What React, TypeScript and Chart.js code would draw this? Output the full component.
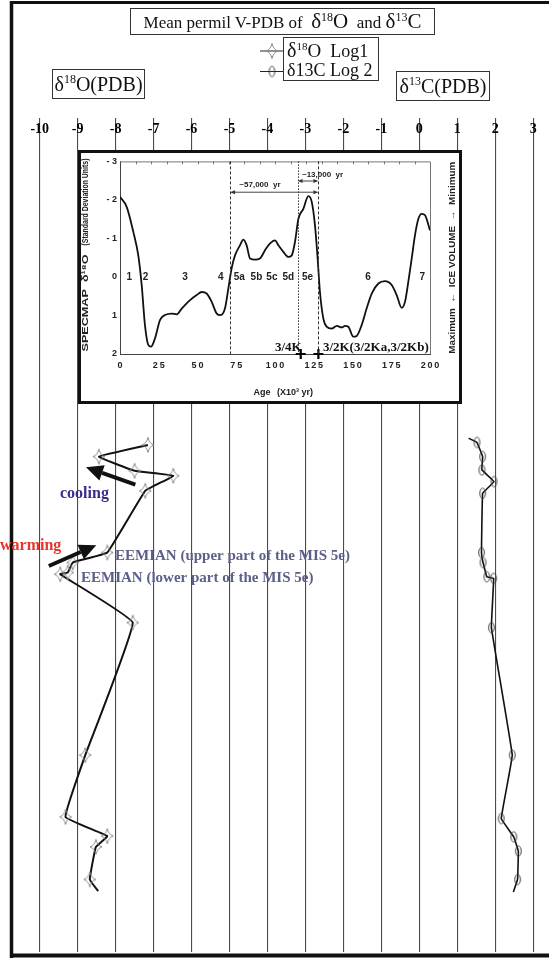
import React, { useEffect, useRef } from 'react';
import { Chart, registerables } from 'chart.js';

Chart.register(...registerables);

// ---------- main chart data ----------
const axisTicks = [-10, -9, -8, -7, -6, -5, -4, -3, -2, -1, 0, 1, 2, 3];
// depth levels (arbitrary sample depth units, top = 0)
const o18Depth = [39.2, 40.6, 42.3, 42.9, 44.7, 52.1, 53.3, 54.5, 54.7, 60.5, 76.4, 83.8, 86.1, 87.4, 91.3, 92.7];
const o18Values = [-7.15, -8.44, -7.5, -6.48, -7.22, -8.22, -9.13, -9.26, -9.46, -7.55, -8.8, -9.32, -8.22, -8.52, -8.68, -8.46];
const c13Depth = [38.4, 38.9, 40.6, 42.2, 43.6, 45.0, 52.1, 53.3, 55.0, 55.2, 61.1, 76.4, 84.0, 86.2, 87.9, 91.3, 92.8];
const c13Values = [1.3, 1.52, 1.67, 1.65, 1.97, 1.67, 1.64, 1.68, 1.78, 1.96, 1.9, 2.45, 2.16, 2.49, 2.61, 2.59, 2.48];
const o18NoMarker = [15];
const c13NoMarker = [0, 16];

const coolingArrow = { from: [-7.48, 43.95], to: [-8.78, 41.88] };
const warmingArrow = { from: [-9.76, 53.72], to: [-8.51, 51.22] };

// ---------- inset (SPECMAP) data ----------
const specAge = [0, 4.3, 8.6, 11.8, 14, 16.1, 18.3, 20, 22.6, 25.8, 29, 33.3, 36.6, 39.8, 45.2, 49.5, 52.7, 55.9, 59.1, 62.4, 64.9, 67.7, 69.9, 72, 74.2, 77.4, 79.6, 81.7, 83.9, 87.1, 90.3, 93.5, 96.8, 100, 102.2, 105.4, 108.6, 110.8, 112.9, 115.1, 118.3, 121.5, 123.7, 125.8, 127.5, 129, 131.2, 133.3, 136.6, 139.8, 143, 145.2, 147.3, 150.5, 152.7, 155.9, 159.1, 162.4, 166.7, 170.9, 175.3, 178.5, 181.7, 183.9, 186, 188.2, 190.3, 192.5, 194.6, 196.8, 200];
const specValue = [-2.08, -1.82, -1.17, -0.56, 0.21, 1.25, 1.77, 1.81, 1.59, 1.12, 0.99, 0.95, 0.97, 0.82, 0.6, 0.47, 0.39, 0.43, 0.64, 0.95, 0.99, 0.82, 0.3, -0.22, -0.56, -0.82, -0.97, -0.82, -0.48, -0.45, -0.48, -0.69, -0.87, -0.95, -0.82, -0.65, -0.52, -0.56, -0.91, -1.51, -1.77, -2.1, -1.95, -1.34, -0.48, 0.39, 1.08, 1.29, 1.34, 1.27, 1.31, 1.27, 1.29, 1.55, 1.53, 1.25, 0.82, 0.43, 0.17, 0.11, 0.21, 0.47, 0.8, 0.64, 0.13, -0.48, -1.08, -1.51, -1.64, -1.6, -1.21];
const specXTicks = [0, 25, 50, 75, 100, 125, 150, 175, 200];
const specYTicks = [-3, -2, -1, 0, 1, 2];
const stageNames = ['1', '2', '3', '4', '5a', '5b', '5c', '5d', '5e', '6', '7'];
const stageAges = [6, 16.5, 42, 65, 77, 88, 98, 108.6, 121, 160, 195];
const boundaryAges = [71, 114.6, 128];
const kCrossAges = [116.6, 128];

const SERIF = '"Liberation Serif", "Times New Roman", serif';
const SANS = '"Liberation Sans", Arial, sans-serif';

function makeStar(): HTMLCanvasElement {
  const c = document.createElement('canvas');
  c.width = 16; c.height = 18;
  const g = c.getContext('2d')!;
  const cx = 8, cy = 9, rx = 6, ry = 7.5, k = 1.4;
  g.beginPath();
  g.moveTo(cx, cy - ry);
  g.quadraticCurveTo(cx + k, cy - k, cx + rx, cy);
  g.quadraticCurveTo(cx + k, cy + k, cx, cy + ry);
  g.quadraticCurveTo(cx - k, cy + k, cx - rx, cy);
  g.quadraticCurveTo(cx - k, cy - k, cx, cy - ry);
  g.closePath();
  g.strokeStyle = '#8a8a8a';
  g.lineWidth = 1;
  g.stroke();
  return c;
}

function makeEllipse(): HTMLCanvasElement {
  const c = document.createElement('canvas');
  c.width = 9; c.height = 14;
  const g = c.getContext('2d')!;
  g.beginPath();
  g.ellipse(4.5, 7, 2.8, 5.2, 0, 0, Math.PI * 2);
  g.strokeStyle = '#444';
  g.lineWidth = 1;
  g.stroke();
  return c;
}

function arrow(ctx: CanvasRenderingContext2D, x1: number, y1: number, x2: number, y2: number, lw: number, hl: number, hw: number) {
  const a = Math.atan2(y2 - y1, x2 - x1);
  const bx = x2 - hl * Math.cos(a), by = y2 - hl * Math.sin(a);
  ctx.lineWidth = lw;
  ctx.beginPath(); ctx.moveTo(x1, y1); ctx.lineTo(bx, by); ctx.stroke();
  ctx.beginPath();
  ctx.moveTo(x2, y2);
  ctx.lineTo(bx + (hw / 2) * Math.sin(a), by - (hw / 2) * Math.cos(a));
  ctx.lineTo(bx - (hw / 2) * Math.sin(a), by + (hw / 2) * Math.cos(a));
  ctx.closePath(); ctx.fill();
}

function fitText(ctx: CanvasRenderingContext2D, text: string, cx: number, cy: number, w: number, angle: number) {
  ctx.save();
  ctx.translate(cx, cy);
  ctx.rotate(angle);
  const m = ctx.measureText(text).width;
  ctx.scale(w / m, 1);
  ctx.textAlign = 'center';
  ctx.textBaseline = 'middle';
  ctx.fillText(text, 0, 0);
  ctx.restore();
}

const sup = (t: string, size: number, top: number) => (
  <span style={{ fontSize: size, position: 'relative', top }}>{t}</span>
);

export default function App() {
  const mainRef = useRef<HTMLCanvasElement>(null);
  const insetRef = useRef<HTMLCanvasElement>(null);

  useEffect(() => {
    const star = makeStar();
    const ell = makeEllipse();

    const mainDecor = {
      id: 'mainDecor',
      afterDraw(chart: any) {
        const ctx: CanvasRenderingContext2D = chart.ctx;
        const xs = chart.scales.x, ys = chart.scales.y;
        const ca = chart.chartArea;
        ctx.save();
        // frame
        ctx.strokeStyle = '#111';
        ctx.lineWidth = 3.5;
        ctx.beginPath(); ctx.moveTo(ca.left - 0.5, 1); ctx.lineTo(ca.left - 0.5, 958); ctx.stroke();
        ctx.lineWidth = 3;
        ctx.beginPath(); ctx.moveTo(ca.left - 2, 2.5); ctx.lineTo(549, 2.5); ctx.stroke();
        ctx.lineWidth = 4;
        ctx.beginPath(); ctx.moveTo(ca.left - 2, 955.5); ctx.lineTo(549, 955.5); ctx.stroke();
        // tick labels
        ctx.fillStyle = '#000';
        ctx.font = `bold 14px ${SERIF}`;
        ctx.textAlign = 'center';
        ctx.textBaseline = 'middle';
        axisTicks.forEach(v => ctx.fillText(String(v), xs.getPixelForValue(v), ca.top + 11));
        // legend markers
        ctx.strokeStyle = '#222';
        ctx.lineWidth = 1;
        ctx.beginPath(); ctx.moveTo(260, 51); ctx.lineTo(283, 51); ctx.stroke();
        ctx.beginPath(); ctx.moveTo(260, 71.5); ctx.lineTo(283, 71.5); ctx.stroke();
        ctx.drawImage(star, 272 - star.width / 2, 51 - star.height / 2);
        ctx.drawImage(ell, 272 - ell.width / 2, 71.5 - ell.height / 2);
        // arrows
        ctx.fillStyle = '#111';
        ctx.strokeStyle = '#111';
        [coolingArrow, warmingArrow].forEach(a => {
          arrow(ctx, xs.getPixelForValue(a.from[0]), ys.getPixelForValue(a.from[1]),
            xs.getPixelForValue(a.to[0]), ys.getPixelForValue(a.to[1]), 4, 17, 16);
        });
        // annotation texts
        ctx.textAlign = 'left';
        ctx.textBaseline = 'alphabetic';
        ctx.font = `bold 16px ${SERIF}`;
        ctx.fillStyle = '#3a2d8c';
        ctx.fillText('cooling', 60, 498);
        ctx.fillStyle = '#e8352b';
        ctx.fillText('warming', 0, 550);
        ctx.font = `bold 15px ${SERIF}`;
        ctx.fillStyle = '#5c5f88';
        ctx.fillText('EEMIAN (upper part of the MIS 5e)', 115, 560);
        ctx.fillText('EEMIAN (lower part of the MIS 5e)', 81, 582);
        ctx.restore();
      },
    };

    const main = new Chart(mainRef.current!, {
      type: 'scatter',
      data: {
        datasets: [
          {
            label: 'δ18O Log1',
            data: o18Depth.map((d, i) => ({ x: o18Values[i], y: d })),
            showLine: true,
            borderColor: '#111',
            borderWidth: 2,
            tension: 0.08,
            pointStyle: (c: any) => (o18NoMarker.includes(c.dataIndex) ? false : star),
          } as any,
          {
            label: 'δ13C Log 2',
            data: c13Depth.map((d, i) => ({ x: c13Values[i], y: d })),
            showLine: true,
            borderColor: '#111',
            borderWidth: 1.6,
            tension: 0.05,
            pointStyle: (c: any) => (c13NoMarker.includes(c.dataIndex) ? false : ell),
          } as any,
        ],
      },
      options: {
        responsive: false,
        animation: false,
        events: [],
        layout: { padding: { top: 118, left: 12, right: 0, bottom: 5 } },
        plugins: { legend: { display: false }, tooltip: { enabled: false } },
        scales: {
          x: {
            type: 'linear',
            position: 'top',
            min: -10.73,
            max: 3.26,
            afterBuildTicks: (s: any) => { s.ticks = axisTicks.map(v => ({ value: v })); },
            afterFit: (s: any) => { s.height = 0; },
            ticks: { display: false },
            grid: { color: '#4a4a4a', lineWidth: 1.1, drawTicks: false },
            border: { display: false },
          },
          y: { type: 'linear', display: false, reverse: true, min: 0, max: 100 },
        },
      },
      plugins: [mainDecor],
    } as any);

    const insetDecor = {
      id: 'insetDecor',
      afterDraw(chart: any) {
        const ctx: CanvasRenderingContext2D = chart.ctx;
        const xs = chart.scales.x, ys = chart.scales.y;
        const ca = chart.chartArea;
        ctx.save();
        // top & right plot border
        ctx.strokeStyle = '#777';
        ctx.lineWidth = 1;
        ctx.beginPath();
        ctx.moveTo(ca.left, ca.top + 0.5); ctx.lineTo(ca.right + 0.5, ca.top + 0.5); ctx.lineTo(ca.right + 0.5, ca.bottom);
        ctx.stroke();
        // small top ticks
        for (let a = 10; a < 200; a += 10) {
          const px = Math.round(xs.getPixelForValue(a)) + 0.5;
          ctx.beginPath(); ctx.moveTo(px, ca.top); ctx.lineTo(px, ca.top + 3); ctx.stroke();
        }
        // boundary lines
        boundaryAges.forEach((a, i) => {
          ctx.setLineDash(i === 1 ? [1.5, 1.5] : [3, 2]);
          ctx.strokeStyle = '#333';
          const px = Math.round(xs.getPixelForValue(a)) + 0.5;
          ctx.beginPath(); ctx.moveTo(px, ca.top); ctx.lineTo(px, ca.bottom); ctx.stroke();
        });
        ctx.setLineDash([]);
        // duration arrows
        ctx.strokeStyle = '#444'; ctx.fillStyle = '#333';
        const dbl = (a1: number, a2: number, v: number) => {
          const y = ys.getPixelForValue(v);
          const x1 = xs.getPixelForValue(a1), x2 = xs.getPixelForValue(a2);
          const mid = (x1 + x2) / 2;
          arrow(ctx, mid, y, x1, y, 1, 5, 4);
          arrow(ctx, mid, y, x2, y, 1, 5, 4);
        };
        dbl(boundaryAges[0], boundaryAges[2], -2.2);
        dbl(boundaryAges[1], boundaryAges[2], -2.49);
        ctx.fillStyle = '#222';
        ctx.font = `bold 8px ${SANS}`;
        ctx.textAlign = 'left'; ctx.textBaseline = 'middle';
        ctx.fillText('~57,000  yr', xs.getPixelForValue(77), ys.getPixelForValue(-2.38));
        ctx.fillText('~13,000  yr', xs.getPixelForValue(117.4), ys.getPixelForValue(-2.64));
        // stage labels
        ctx.font = `bold 10px ${SANS}`;
        ctx.textAlign = 'center';
        stageNames.forEach((s, i) => ctx.fillText(s, xs.getPixelForValue(stageAges[i]), ys.getPixelForValue(0)));
        // K labels
        ctx.font = `bold 13px ${SERIF}`;
        ctx.fillStyle = '#111';
        ctx.textAlign = 'right';
        ctx.fillText('3/4K', xs.getPixelForValue(kCrossAges[0]) + 1, ys.getPixelForValue(1.84));
        ctx.textAlign = 'left';
        ctx.fillText('3/2K(3/2Ka,3/2Kb)', xs.getPixelForValue(130.9), ys.getPixelForValue(1.84));
        // axis titles
        ctx.fillStyle = '#222';
        ctx.font = `bold 9px ${SANS}`;
        fitText(ctx, 'SPECMAP  δ¹⁸O', 5, 150, 97, -Math.PI / 2);
        fitText(ctx, '(Standard Deviation Units)', 5, 49, 87, -Math.PI / 2);
        fitText(ctx, 'Maximum  ←  ICE VOLUME  →  Minimum', 372, (ca.top + ca.bottom) / 2, 192, -Math.PI / 2);
        ctx.textAlign = 'center'; ctx.textBaseline = 'middle';
        ctx.fillText('Age', 181, 240);
        ctx.fillText('(X10³ yr)', 214, 240);
        ctx.restore();
      },
    };

    const inset = new Chart(insetRef.current!, {
      type: 'scatter',
      data: {
        datasets: [
          {
            data: specAge.map((a, i) => ({ x: a, y: specValue[i] })),
            showLine: true,
            borderColor: '#111',
            borderWidth: 1.8,
            pointRadius: 0,
            cubicInterpolationMode: 'monotone',
          } as any,
          {
            data: kCrossAges.map(a => ({ x: a, y: 2 })),
            showLine: false,
            pointStyle: 'cross',
            pointRadius: 5,
            borderWidth: 2.2,
            borderColor: '#000',
            clip: false,
          } as any,
        ],
      },
      options: {
        responsive: false,
        animation: false,
        events: [],
        layout: { padding: { top: 8, right: 29, left: 0, bottom: 0 } },
        plugins: { legend: { display: false }, tooltip: { enabled: false } },
        scales: {
          x: {
            type: 'linear',
            min: 0,
            max: 200,
            afterBuildTicks: (s: any) => { s.ticks = specXTicks.map(v => ({ value: v })); },
            afterFit: (s: any) => { s.height = 47; },
            ticks: {
              font: { family: SANS, size: 9, weight: 'bold' },
              color: '#222',
              padding: 6,
              maxRotation: 0,
              autoSkip: false,
              callback: (v: any) => String(v).split('').join('\u2009'),
            },
            grid: { display: false, drawTicks: false },
            border: { display: true, color: '#444', width: 1 },
          },
          y: {
            type: 'linear',
            min: -3,
            max: 2,
            reverse: true,
            afterBuildTicks: (s: any) => { s.ticks = specYTicks.map(v => ({ value: v })); },
            afterFit: (s: any) => { s.width = 39; },
            ticks: {
              font: { family: SANS, size: 9, weight: 'bold' },
              color: '#222',
              padding: 3,
              callback: (v: any) => (v < 0 ? '- ' + String(-v) : String(v)),
            },
            grid: { display: false, drawTicks: false },
            border: { display: true, color: '#444', width: 1 },
          },
        },
      },
      plugins: [insetDecor],
    } as any);

    return () => { main.destroy(); inset.destroy(); };
  }, []);

  const boxBase: React.CSSProperties = {
    position: 'absolute',
    border: '1.5px solid #333',
    boxSizing: 'border-box',
    fontFamily: SERIF,
    color: '#111',
    whiteSpace: 'nowrap',
    lineHeight: 1,
  };

  return (
    <div style={{ position: 'absolute', left: 0, top: 0, width: 549, height: 958, overflow: 'hidden', background: '#fff' }}>
      <canvas ref={mainRef} width={549} height={958} style={{ position: 'absolute', left: 0, top: 0 }} />
      <div style={{ ...boxBase, left: 130, top: 8, width: 305, height: 27, fontSize: 17, display: 'flex', alignItems: 'center', justifyContent: 'center' }}>
        <span>
          Mean permil V-PDB of&nbsp; <span style={{ fontSize: 21 }}>δ</span>{sup('18', 12, -7)}<span style={{ fontSize: 21 }}>O</span>&nbsp; and&nbsp;
          <span style={{ fontSize: 21 }}>δ</span>{sup('13', 12, -7)}<span style={{ fontSize: 21 }}>C</span>
        </span>
      </div>
      <div style={{ ...boxBase, left: 283, top: 37, width: 96, height: 44, fontSize: 18 }}>
        <div style={{ position: 'absolute', left: 3, top: 2 }}>
          <span style={{ fontSize: 20 }}>δ</span>{sup('18', 11, -7)}<span style={{ fontSize: 19 }}>O</span>&nbsp; Log1
        </div>
        <div style={{ position: 'absolute', left: 3, top: 23 }}>δ13C Log 2</div>
      </div>
      <div style={{ ...boxBase, left: 52, top: 69, width: 93, height: 30, fontSize: 20, display: 'flex', alignItems: 'center', justifyContent: 'center' }}>
        <span>δ{sup('18', 12, -8)}O(PDB)</span>
      </div>
      <div style={{ ...boxBase, left: 396, top: 71, width: 94, height: 30, fontSize: 20, display: 'flex', alignItems: 'center', justifyContent: 'center' }}>
        <span>δ{sup('13', 12, -8)}C(PDB)</span>
      </div>
      <div style={{ position: 'absolute', left: 78, top: 150, width: 384, height: 254, border: '3px solid #111', boxSizing: 'border-box', background: '#fff' }}>
        <canvas ref={insetRef} width={378} height={248} style={{ display: 'block' }} />
      </div>
    </div>
  );
}
